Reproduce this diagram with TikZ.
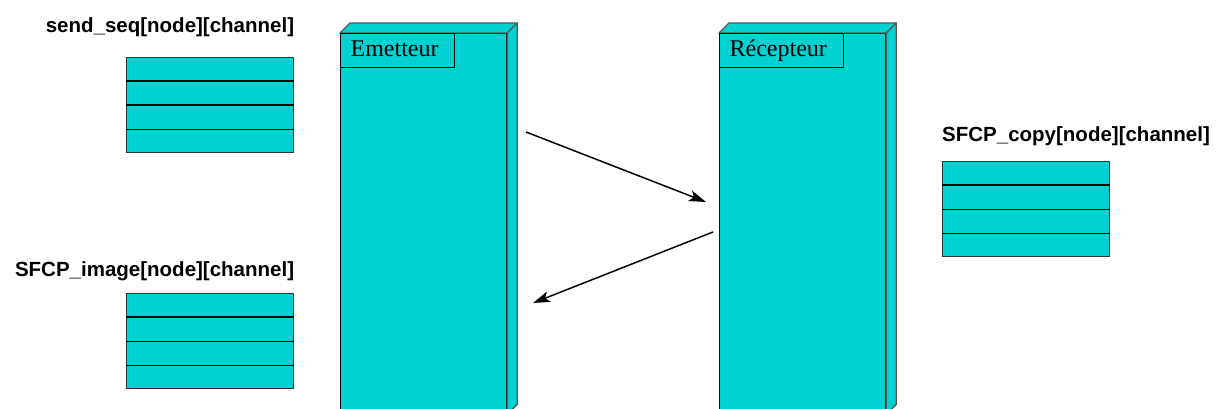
\documentclass[tikz,border=0pt]{standalone}
\usepackage{fontspec}
\usetikzlibrary{arrows.meta, positioning, calc}
\newfontfamily\lblfont{Liberation Sans}
\newfontfamily\devfont{Liberation Serif}
\definecolor{turq}{RGB}{0,209,209}
\tikzset{
    x=1pt, y=-1pt, % pixel grid of the figure, y going down
    >={Stealth[length=17pt, width=11pt, inset=4pt]},
    every node/.style={inner sep=0pt},
    arraybox/.style={draw=black!80, fill=turq, line width=1.3pt, minimum width=167pt, minimum height=95pt, anchor=north west},
    varname/.style={font=\lblfont\bfseries\fontsize{20.5}{24}\selectfont},
    device/.style={draw=black, fill=turq, line width=1.3pt, minimum width=166pt, minimum height=380pt, anchor=north west},
    devside/.style={fill=turq, draw=black!65, line width=1.3pt, line join=round},
    devlabel/.style={draw=black, fill=turq, line width=1.3pt, anchor=north west, font=\devfont\fontsize{24}{27}\selectfont,
                     inner xsep=10pt, minimum height=34pt, text height=15pt, text depth=3pt},
}
\begin{document}
\begin{tikzpicture}
    \useasboundingbox (0,0) rectangle (1218,409);
    \clip (0,0) rectangle (1218,409);
    % arrays
    \node[arraybox] (seq) at (126,57) {};
    \node[arraybox] (img) at (126,293) {};
    \node[arraybox] (copy) at (942,161) {};
    \foreach \t in {seq,img,copy}
        \foreach \k in {1,2,3}
            \draw[line width=1.3pt] ($(\t.north west)!\k/4!(\t.south west)$) -- ($(\t.north east)!\k/4!(\t.south east)$);
    \node[varname, anchor=base east] (seqname) at ([yshift=24pt]seq.north east) {send\_seq[node][channel]};
    \node[varname, anchor=base east] (imgname) at ([yshift=17pt]img.north east) {SFCP\_image[node][channel]};
    \node[varname, anchor=base west] (copyname) at ([yshift=19pt]copy.north west) {SFCP\_copy[node][channel]};
    % devices
    \node[device] (emet) at (340,33) {};
    \node[device] (recep) at (719,33) {};
    \foreach \d in {emet,recep} {
        \filldraw[devside] (\d.north west) -- ++(10,-10) -- ([shift={(10,-10)}]\d.north east) -- (\d.north east) -- cycle;
        \filldraw[devside] (\d.north east) -- ++(10,-10) -- ([shift={(10,-10)}]\d.south east) -- (\d.south east) -- cycle;
    }
    \node[devlabel, text width=94pt] (emetname) at (emet.north west) {Emetteur};
    \node[devlabel, text width=104pt] (recepname) at (recep.north west) {Récepteur};
    % messages
    \coordinate (out1) at (526,132);
    \coordinate (in1) at (706,202);
    \coordinate (out2) at (713,232);
    \coordinate (in2) at (533,303);
    \draw[->, line width=1.5pt] (out1) -- (in1);
    \draw[->, line width=1.5pt] (out2) -- (in2);
\end{tikzpicture}
\end{document}
